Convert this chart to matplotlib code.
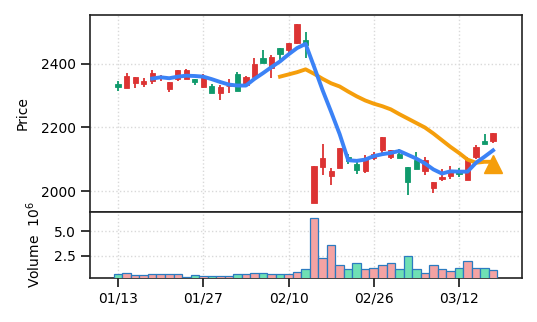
import matplotlib
matplotlib.use("Agg")
from matplotlib import pyplot as plt
import numpy as np

# OHLC (index = trading day)
opens = [2338, 2325, 2340, 2337, 2345, 2355, 2321, 2353, 2354, 2352,
         2327, 2330, 2309, 2331, 2367, 2335, 2360, 2418, 2387, 2449,
         2444, 2465, 2475, 1963, 2076, 2047, 2072, 2108, 2085, 2064,
         2103, 2128, 2108, 2118, 2076, 2097, 2062, 2009, 2037, 2047,
         2063, 2034, 2108, 2156, 2156]
closes = [2328, 2362, 2359, 2346, 2370, 2362, 2342, 2380, 2381, 2342,
          2359, 2309, 2328, 2331, 2316, 2358, 2400, 2403, 2422, 2431,
          2466, 2525, 2460, 2080, 2105, 2062, 2137, 2095, 2066, 2105,
          2118, 2170, 2128, 2105, 2030, 2068, 2097, 2029, 2045, 2066,
          2055, 2101, 2139, 2149, 2183]
highs = [2347, 2373, 2359, 2357, 2381, 2365, 2342, 2380, 2385, 2352,
         2367, 2337, 2333, 2352, 2375, 2362, 2419, 2445, 2429, 2449,
         2466, 2525, 2501, 2080, 2149, 2074, 2137, 2118, 2095, 2112,
         2124, 2170, 2128, 2133, 2076, 2124, 2108, 2029, 2070, 2080,
         2074, 2108, 2145, 2179, 2183]
lows = [2316, 2325, 2324, 2327, 2337, 2346, 2311, 2346, 2352, 2333,
        2324, 2309, 2286, 2310, 2316, 2327, 2358, 2403, 2355, 2412,
        2433, 2463, 2418, 1963, 2051, 2020, 2072, 2085, 2053, 2057,
        2099, 2118, 2102, 2105, 1988, 2068, 2051, 1993, 2032, 2039,
        2043, 2034, 2101, 2149, 2151]
volume = [0.59, 0.73, 0.49, 0.49, 0.59, 0.59, 0.59, 0.59, 0.38, 0.49,
          0.45, 0.45, 0.45, 0.42, 0.59, 0.59, 0.73, 0.73, 0.59, 0.59,
          0.59, 0.83, 1.11, 6.32, 2.26, 3.54, 1.53, 1.11, 1.74, 1.11,
          1.22, 1.53, 1.74, 1.11, 2.47, 1.11, 0.69, 1.53, 1.11, 0.90,
          1.22, 1.94, 1.22, 1.22, 1.01]

# moving average lines (None = not drawn yet)
ma_short = [None] * 4 + [2354, 2358, 2355, 2360, 2363, 2362, 2360, 2352, 2343,
                         2335, 2332, 2332, 2353, 2371, 2390, 2408, 2430, 2450,
                         2463, 2391, 2317, 2249, 2179, 2097, 2095, 2099, 2110,
                         2116, 2120, 2126, 2114, 2102, 2087, 2068, 2055, 2062,
                         2061, 2061, 2089, 2108, 2128]
ma_long = [None] * 19 + [2360, 2367, 2374, 2383, 2369, 2353, 2339, 2329, 2313,
                         2298, 2285, 2275, 2267, 2257, 2242, 2228, 2214, 2200,
                         2181, 2160, 2139, 2120, 2099, 2089, 2092, 2092]
signal_idx = 44
signal_price = 2085

tick_idx = [0, 10, 20, 30, 40]
tick_labels = ["01/13", "01/27", "02/10", "02/26", "03/12"]

plt.rcParams["font.size"] = 10

x = np.arange(len(opens))
o = np.array(opens); c = np.array(closes)
up = c >= o
candle_col = np.where(up, "#dc3333", "#0f9a6c")
vol_col = np.where(up, "#f4a3a3", "#6fe0b4")

fig = plt.figure(figsize=(5.37, 3.22), dpi=100)
ax = fig.add_axes([0.1676, 0.3416, 0.8045, 0.6118])
axv = fig.add_axes([0.1676, 0.137, 0.8045, 0.2046], sharex=ax)

# candles
ax.vlines(x, lows, highs, colors=candle_col, linewidth=1.3, zorder=2)
ax.bar(x, np.abs(c - o), bottom=np.minimum(o, c), width=0.62,
       color=candle_col, edgecolor=candle_col, linewidth=0.6, zorder=3)

ma_s = np.array([np.nan if v is None else v for v in ma_short], dtype=float)
ma_l = np.array([np.nan if v is None else v for v in ma_long], dtype=float)
ax.plot(np.arange(len(ma_s)), ma_s, color="#3b82f6", linewidth=2.8, zorder=5)
ax.plot(np.arange(len(ma_l)), ma_l, color="#f59e0b", linewidth=2.8, zorder=4)
ax.plot([signal_idx], [signal_price], marker="^", color="#f59e0b",
        markersize=13, linestyle="none", zorder=6)

ax.set_ylim(1934, 2554)
ax.set_yticks([2000, 2200, 2400])
ax.set_ylabel("Price", labelpad=8)
ax.tick_params(axis="x", which="both", bottom=False, labelbottom=False)

# volume
axv.bar(x, volume, width=1.0, color=vol_col, edgecolor="#2b7bc0",
        linewidth=0.9, zorder=3)
axv.set_ylim(0.24, 6.95)
axv.set_yticks([2.5, 5.0])
axv.set_ylabel("Volume  $10^6$", labelpad=8)
axv.set_xticks(tick_idx)
axv.set_xticklabels(tick_labels)
axv.set_xlim(-3.3, 47.4)

for a in (ax, axv):
    a.grid(True, linestyle=":", color="#d9d9d9", linewidth=1.0)
    a.set_axisbelow(True)
    for s in a.spines.values():
        s.set_linewidth(1.2)
        s.set_color("#222222")
    a.tick_params(direction="out", length=6.5, width=1.1, pad=3.5)

fig.savefig("out.png", dpi=100)
